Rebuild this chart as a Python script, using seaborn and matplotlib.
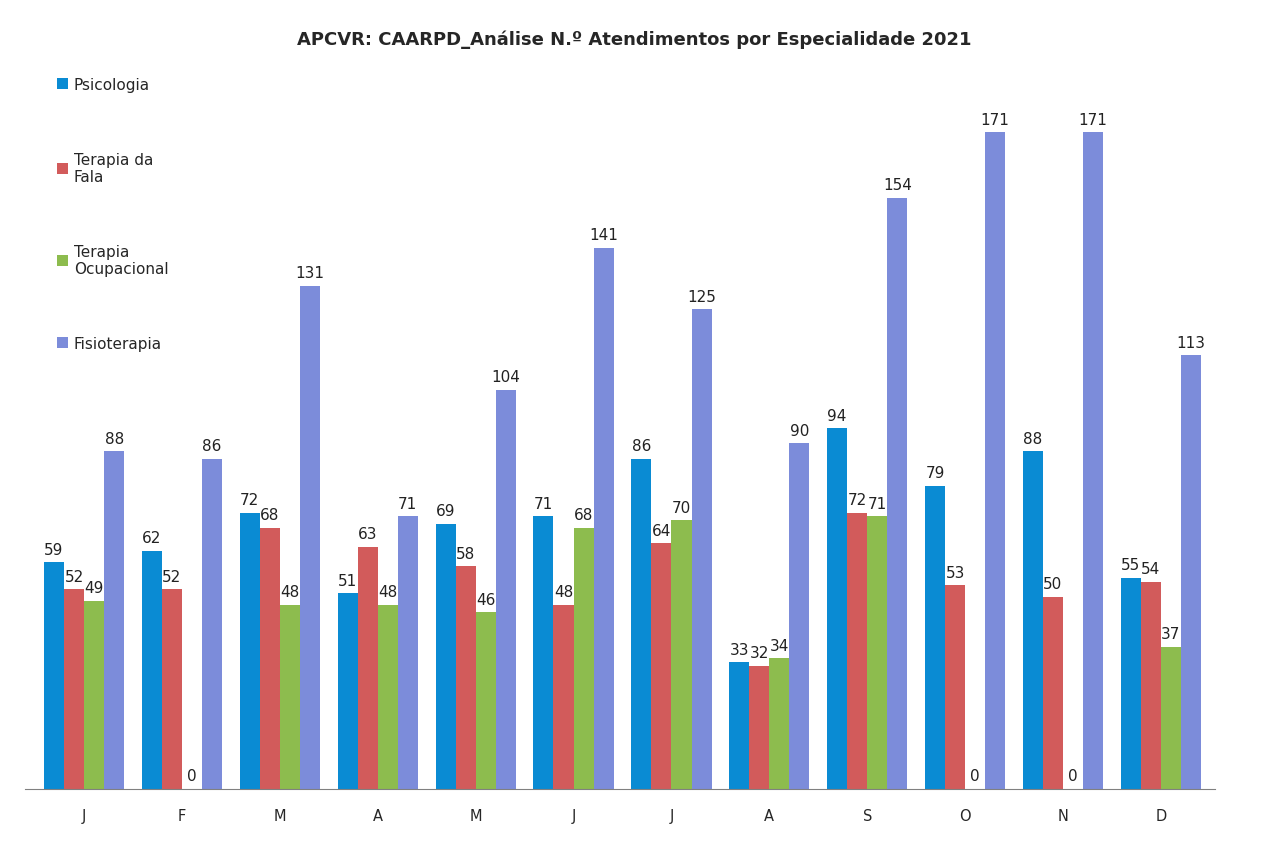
import matplotlib
matplotlib.use("Agg")
import matplotlib.pyplot as plt
import seaborn as sns
import pandas as pd

# Data
months = ["Jan", "Fev", "Mar", "Abr", "Mai", "Jun", "Jul", "Ago", "Set", "Out", "Nov", "Dez"]
month_labels = ["J", "F", "M", "A", "M", "J", "J", "A", "S", "O", "N", "D"]
series = ["Psicologia", "Terapia da Fala", "Terapia Ocupacional", "Fisioterapia"]
legend_labels = ["Psicologia", "Terapia da\nFala", "Terapia\nOcupacional", "Fisioterapia"]

psicologia = [59, 62, 72, 51, 69, 71, 86, 33, 94, 79, 88, 55]
terapia_fala = [52, 52, 68, 63, 58, 48, 64, 32, 72, 53, 50, 54]
terapia_ocupacional = [49, 0, 48, 48, 46, 68, 70, 34, 71, 0, 0, 37]
fisioterapia = [88, 86, 131, 71, 104, 141, 125, 90, 154, 171, 171, 113]

colors = ["#0A8BD3", "#D25B5B", "#8DBC4E", "#7C8CDA"]

rows = []
for name, vals in zip(series, [psicologia, terapia_fala, terapia_ocupacional, fisioterapia]):
    for m, v in zip(months, vals):
        rows.append({"mes": m, "valor": v, "especialidade": name})
df = pd.DataFrame(rows)

sns.set_style("white")
fig = plt.figure(figsize=(12.68, 8.53), dpi=100)
ax = fig.add_axes([0.02, 0.074, 0.938, 0.855])

sns.barplot(data=df, x="mes", y="valor", hue="especialidade", order=months,
            hue_order=series, palette=colors, width=0.82, saturation=1,
            errorbar=None, linewidth=0, ax=ax)

for cont in ax.containers:
    ax.bar_label(cont, padding=4, fontsize=11, color="#222222")

ax.set_ylim(0, 190)
ax.set_xlim(-0.6, 11.55)
ax.set_yticks([])
ax.set_xticks(range(len(months)))
ax.set_xticklabels(month_labels, fontsize=10.5)
ax.tick_params(axis="x", length=0, pad=14)
ax.set_xlabel("")
ax.set_ylabel("")
for s in ["left", "top", "right"]:
    ax.spines[s].set_visible(False)
ax.spines["bottom"].set_color("#808080")

handles, _ = ax.get_legend_handles_labels()
ax.legend(handles, legend_labels, loc="upper left", bbox_to_anchor=(0.015, 0.995),
          frameon=False, fontsize=11, handlelength=0.75, handleheight=0.75,
          handletextpad=0.35, labelspacing=3.9, alignment="left")

fig.text(0.5, 0.953, "APCVR: CAARPD_Análise N.º Atendimentos por Especialidade 2021",
         ha="center", va="center", fontsize=13, fontweight="bold")

fig.savefig("out.png", dpi=100)
